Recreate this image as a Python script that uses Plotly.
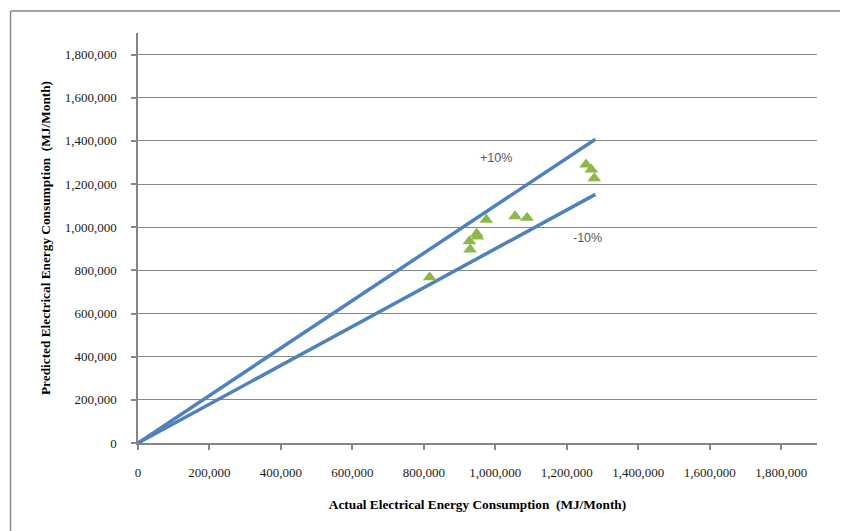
import plotly.graph_objects as go

# Data
actual = [1253700, 1268500, 1276900, 974800, 1055100, 1088700, 947700, 949700, 927300, 929200, 816200]
predicted = [1290300, 1267100, 1226800, 1034300, 1050900, 1043500, 969400, 957000, 935200, 896800, 768500]

line_x = [0, 1280000]
plus10_y = [0, 1408000]
minus10_y = [0, 1152000]

tick_vals = [0, 200000, 400000, 600000, 800000, 1000000, 1200000, 1400000, 1600000, 1800000]
tick_text = ["0", "200,000", "400,000", "600,000", "800,000", "1,000,000",
             "1,200,000", "1,400,000", "1,600,000", "1,800,000"]

OFF = 8  # page body margin
W, H = 848 - OFF, 531 - OFF
L, T = 137.5 - OFF, 33 - OFF
R, B = W - (816.7 - OFF), H - (442.7 - OFF)
pw = W - L - R
ph = H - T - B

fig = go.Figure()
fig.add_trace(go.Scatter(x=line_x, y=plus10_y, mode="lines",
                         line=dict(color="#4F81BD", width=3.5), showlegend=False))
fig.add_trace(go.Scatter(x=line_x, y=minus10_y, mode="lines",
                         line=dict(color="#4F81BD", width=3.5), showlegend=False))
fig.add_trace(go.Scatter(x=actual, y=predicted, mode="markers",
                         marker=dict(symbol="triangle-up", size=12, color="#8CB84A",
                                     line=dict(width=0)), showlegend=False))

axis_common = dict(
    range=[0, 1900000], tickvals=tick_vals, ticktext=tick_text,
    showline=True, linecolor="#868686", linewidth=1.5,
    ticks="outside", ticklen=5, tickcolor="#868686", tickwidth=1.5,
    tickfont=dict(family="Liberation Serif", size=13, color="#1a1a1a"),
    zeroline=False,
)

fig.update_xaxes(**axis_common, showgrid=False, ticklabelstandoff=12,
                 title=dict(text="<b>Actual Electrical Energy Consumption  (MJ/Month)</b>",
                            font=dict(family="Liberation Serif", size=13.3, color="#000000"),
                            standoff=20))
fig.update_yaxes(**axis_common, showgrid=True, gridcolor="#868686", gridwidth=1.2,
                 ticklabelstandoff=12,
                 title=dict(text="<b>Predicted Electrical Energy Consumption  (MJ/Month)</b>",
                            font=dict(family="Liberation Serif", size=13.3, color="#000000"),
                            standoff=11))

fig.add_annotation(x=1002800, y=1322700, text="+10%", showarrow=False,
                   font=dict(family="Liberation Sans", size=12.5, color="#595959"))
fig.add_annotation(x=1257300, y=952300, text="-10%", showarrow=False,
                   font=dict(family="Liberation Sans", size=12.5, color="#595959"))

# outer chart border (only left and top edges are visible in the reference)
bx0 = (10 - OFF - L) / pw
by1 = (H - B - (11 - OFF)) / ph
border = dict(color="#888888", width=1.5)
fig.add_shape(type="line", xref="paper", yref="paper",
              x0=bx0, x1=bx0, y0=-0.4, y1=by1, line=border, layer="below")
fig.add_shape(type="line", xref="paper", yref="paper",
              x0=bx0, x1=1.3, y0=by1, y1=by1, line=border, layer="below")

fig.update_layout(
    width=W, height=H,
    margin=dict(l=L, r=R, t=T, b=B),
    plot_bgcolor="white", paper_bgcolor="white",
)

fig.write_html("out.html")
